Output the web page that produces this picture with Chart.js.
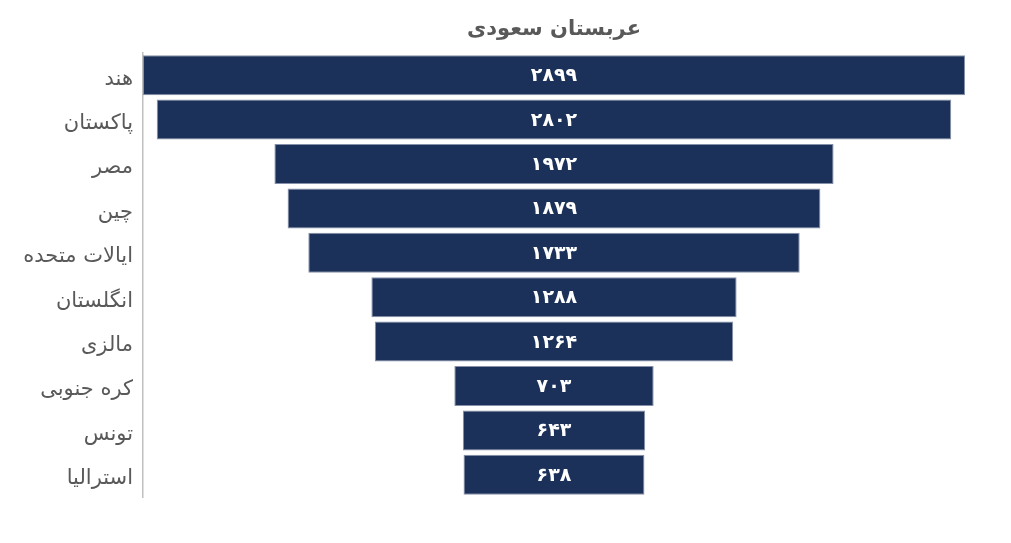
<!DOCTYPE html>
<html>
<head>
<meta charset="utf-8">
<script src="https://cdn.jsdelivr.net/npm/chart.js@4"></script>
<style>
  html, body { margin: 0; padding: 0; background: #fff; }
  #wrap { width: 1011px; height: 543px; }
</style>
</head>
<body>
<div id="wrap"><canvas id="funnel"></canvas></div>
<script>
const chartTitle = "عربستان سعودی";
const countries = ["هند", "پاکستان", "مصر", "چین", "ایالات متحده", "انگلستان", "مالزی", "کره جنوبی", "تونس", "استرالیا"];
const counts = [2899, 2802, 1972, 1879, 1733, 1288, 1264, 703, 643, 638];

const toPersian = n => String(n).replace(/\d/g, d => "۰۱۲۳۴۵۶۷۸۹"[d]);
const half = Math.max(...counts) / 2;

const labelPlugin = {
    id: "funnelLabels",
    afterDatasetsDraw(chart) {
        const ctx = chart.ctx;
        const meta = chart.getDatasetMeta(0);
        ctx.save();
        ctx.fillStyle = "#ffffff";
        ctx.font = "bold 19px 'DejaVu Sans'";
        ctx.textAlign = "center";
        ctx.textBaseline = "middle";
        meta.data.forEach((bar, i) => {
            ctx.fillText(toPersian(counts[i]), (bar.x + bar.base) / 2, bar.y + 1);
        });
        // title centred over plot area
        const area = chart.chartArea;
        ctx.fillStyle = "#595959";
        ctx.font = "bold 21px 'DejaVu Sans'";
        ctx.fillText(chartTitle, (area.left + area.right) / 2, 30);
        ctx.restore();
    }
};

new Chart(document.getElementById("funnel"), {
    type: "bar",
    data: {
        labels: countries,
        datasets: [{
            data: counts.map(v => [-v / 2, v / 2]),
            backgroundColor: "#1c3159",
            borderColor: "#8590a8",
            borderWidth: 1,
            borderSkipped: false,
            barPercentage: 0.9,
            categoryPercentage: 1
        }]
    },
    options: {
        indexAxis: "y",
        responsive: true,
        maintainAspectRatio: false,
        animation: false,
        layout: { padding: { top: 53, right: 46, bottom: 46, left: 0 } },
        plugins: {
            legend: { display: false },
            title: { display: false },
            tooltip: { enabled: false }
        },
        scales: {
            x: { display: false, min: -half, max: half },
            y: {
                afterFit: s => { s.width = 143; },
                grid: { display: false, drawTicks: false },
                border: { display: true, color: "#bfbfbf", width: 1.5 },
                ticks: {
                    color: "#595959",
                    padding: 10,
                    labelOffset: 4,
                    font: { family: "'DejaVu Sans'", size: 21 }
                }
            }
        }
    },
    plugins: [labelPlugin]
});
</script>
</body>
</html>
